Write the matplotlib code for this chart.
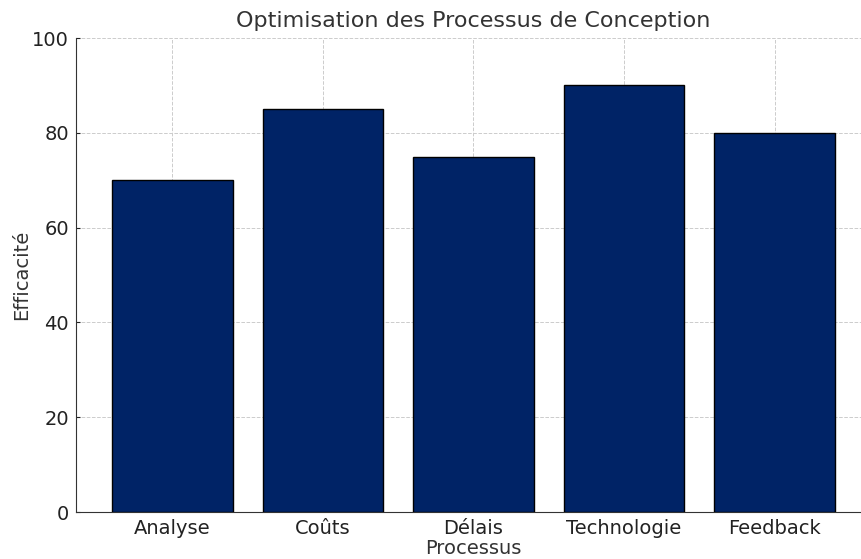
import matplotlib.pyplot as plt

categories = ['Analyse', 'Coûts', 'Délais', 'Technologie', 'Feedback']
efficacite = [70, 85, 75, 90, 80]

plt.rcParams['font.family'] = ['DejaVu Sans']

fig = plt.figure(figsize=(8.61, 5.59), dpi=100)
ax = fig.add_axes([76 / 861, 47 / 559, 795 / 861, 474 / 559])

ax.bar(categories, efficacite, color='#002366', edgecolor='black', width=0.8, zorder=3)

ax.set_ylim(0, 100)
ax.set_title('Optimisation des Processus de Conception', fontsize=16, color='#333333', pad=8)
ax.set_xlabel('Processus', fontsize=14, color='#333333', labelpad=1)
ax.set_ylabel('Efficacité', fontsize=14, color='#333333', labelpad=1)
ax.tick_params(labelsize=14, colors='#222222', direction='in', length=3, pad=5)
ax.grid(True, linestyle='--', color='#cccccc', linewidth=0.7, zorder=0)
ax.spines['top'].set_visible(False)
ax.spines['right'].set_visible(False)
for s in ('left', 'bottom'):
    ax.spines[s].set_color('#333333')

fig.savefig('out.png', dpi=100)
